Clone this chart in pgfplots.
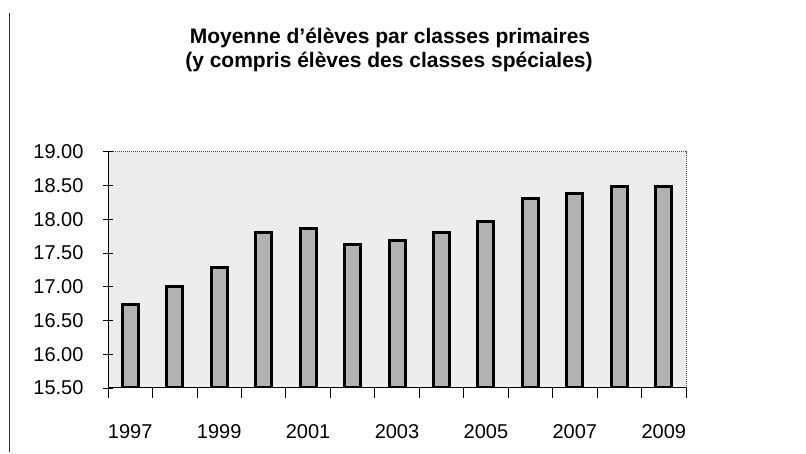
\documentclass[border=0pt]{standalone}
\usepackage{pgfplots}
\pgfplotsset{compat=1.18}
\usepackage{fontspec}
\setmainfont{Liberation Sans}
\begin{document}
\begin{tikzpicture}
\path[use as bounding box] (0,0) rectangle (806pt,454pt);
\draw[black!80, line width=0.8pt] (9pt,2pt) -- (9pt,441pt);
\node[font=\fontsize{21}{24}\selectfont\bfseries, anchor=base, inner sep=0pt] at (390pt,410pt)
  {Moyenne d'élèves par classes primaires};
\node[font=\fontsize{21}{24}\selectfont\bfseries, anchor=base, inner sep=0pt] at (389pt,386pt)
  {(y compris élèves des classes spéciales)};
\begin{axis}[
  at={(108pt,66pt)}, anchor=south west,
  width=578pt, height=236.3pt, scale only axis,
  xmin=-0.5, xmax=12.5, ymin=15.5, ymax=19,
  axis lines=left,
  axis line style={-, black, line width=1pt},
  axis background/.style={fill=gray!14, draw=gray!60!black, densely dotted, line width=1pt},
  ytick={15.5,16,...,19},
  /pgf/number format/fixed,
  /pgf/number format/fixed zerofill,
  /pgf/number format/precision=2,
  /pgf/number format/assume math mode=true,
  yticklabel style={font=\fontsize{20}{23}\selectfont, xshift=-16pt},
  xtick={0,2,...,12},
  xticklabels={1997,1999,2001,2003,2005,2007,2009},
  xticklabel style={font=\fontsize{20}{23}\selectfont, yshift=-23pt},
  minor xtick={-0.5,0.5,...,12.5},
  tick align=center,
  major tick length=10pt,
  minor tick length=10pt,
  x tick style={draw=none},
  minor x tick style={draw=black, line width=0.8pt},
  y tick style={draw=black, line width=0.8pt},
  ybar, bar shift=0pt, bar width=16pt,
]
\addplot[draw=black, line width=3pt, fill=gray!60] coordinates {
(0,16.73) (1,17.00) (2,17.29) (3,17.81) (4,17.86) (5,17.63) (6,17.68)
(7,17.81) (8,17.96) (9,18.31) (10,18.38) (11,18.49) (12,18.49)};
\end{axis}
\end{tikzpicture}
\end{document}
